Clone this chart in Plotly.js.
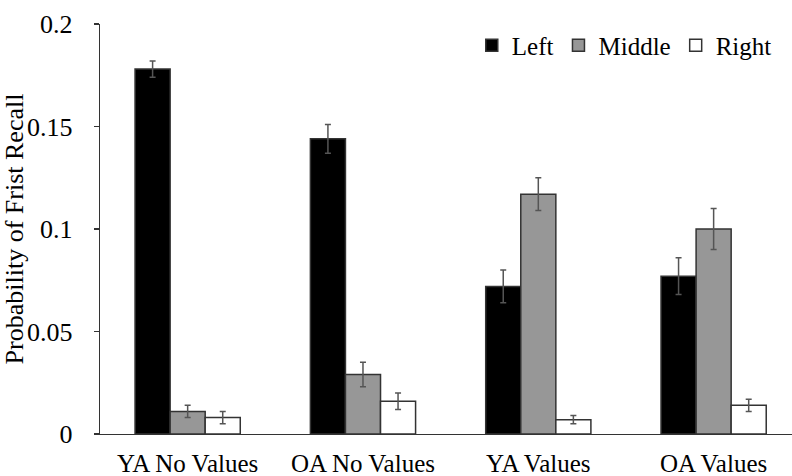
<!DOCTYPE html>
<html>
<head>
<meta charset="utf-8">
<script src="https://cdn.plot.ly/plotly-3.0.1.min.js"></script>
<style>
  html, body { margin: 0; padding: 0; background: #fff; }
  #chart { width: 792px; height: 476px; }
</style>
</head>
<body>
<div id="chart"></div>
<script>
// Conditions on the x axis
const conditions = ["YA No Values", "OA No Values", "YA Values", "OA Values"];

// Probability of first recall by serial position region
const leftValues   = [0.178, 0.144, 0.072, 0.077];
const middleValues = [0.011, 0.029, 0.117, 0.100];
const rightValues  = [0.008, 0.016, 0.007, 0.014];

// Standard errors
const leftErr   = [0.004, 0.007, 0.008, 0.009];
const middleErr = [0.003, 0.006, 0.008, 0.010];
const rightErr  = [0.003, 0.004, 0.002, 0.003];

// Y axis ticks
const yTicks = [0, 0.05, 0.1, 0.15, 0.2];
const yTickText = ["0", "0.05", "0.1", "0.15", "0.2"];

const FONT = "Liberation Serif";
const outline = { color: "#333333", width: 1.5 };

function errBars(arr) {
  return { type: "data", array: arr, visible: true, color: "#555555", thickness: 1.5, width: 3 };
}

const traces = [
  { type: "bar", name: "Left", x: conditions, y: leftValues,
    marker: { color: "#000000", line: outline }, error_y: errBars(leftErr) },
  { type: "bar", name: "Middle", x: conditions, y: middleValues,
    marker: { color: "#979797", line: outline }, error_y: errBars(middleErr) },
  { type: "bar", name: "Right", x: conditions, y: rightValues,
    marker: { color: "#ffffff", line: outline }, error_y: errBars(rightErr) }
];

const layout = {
  width: 792, height: 476,
  margin: { l: 100, r: 0, t: 24, b: 42 },
  paper_bgcolor: "#ffffff", plot_bgcolor: "#ffffff",
  barmode: "group", bargap: 0.4, bargroupgap: 0,
  font: { family: FONT, color: "#000000", size: 25 },
  xaxis: {
    type: "category",
    range: [-0.5, 3.447],
    showline: true, linecolor: "#333333", linewidth: 1.3,
    ticks: "", showgrid: false, zeroline: false,
    tickfont: { family: FONT, size: 25, color: "#000" },
    ticklabelstandoff: 7
  },
  yaxis: {
    range: [0, 0.2],
    tickvals: yTicks, ticktext: yTickText,
    showline: true, linecolor: "#333333", linewidth: 1.3,
    ticks: "outside", ticklen: 5, tickcolor: "#333333", tickwidth: 1.3,
    showgrid: false, zeroline: false,
    tickfont: { family: FONT, size: 26, color: "#000" },
    ticklabelstandoff: 16,
    title: { text: "Probability of Frist Recall", font: { family: FONT, size: 26, color: "#000" }, standoff: 0 }
  },
  showlegend: true,
  legend: {
    orientation: "h", x: 0.978, xanchor: "right", y: 0.9476, yanchor: "middle",
    font: { family: FONT, size: 25, color: "#000" },
    bgcolor: "rgba(0,0,0,0)", itemwidth: 30, traceorder: "normal"
  }
};

Plotly.newPlot("chart", traces, layout, { staticPlot: true, displayModeBar: false });
</script>
</body>
</html>
